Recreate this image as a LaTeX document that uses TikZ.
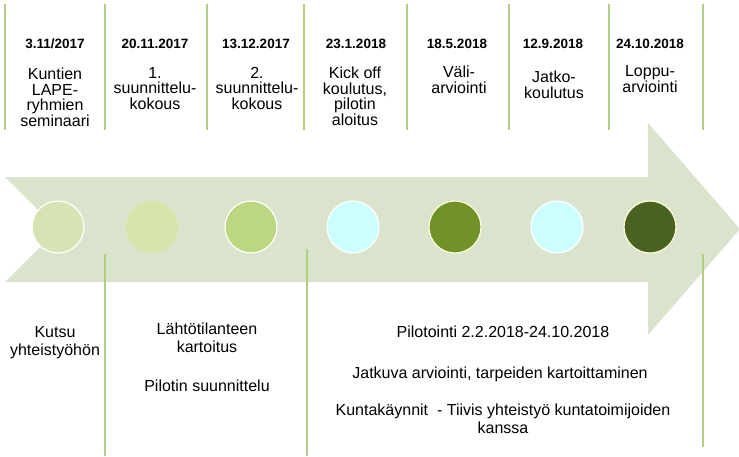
\documentclass[tikz,border=0pt]{standalone}
\usepackage{fontspec}
\setmainfont{Liberation Sans}
\definecolor{arrowgreen}{RGB}{218,228,204}
\definecolor{lineg}{RGB}{180,205,130}
\definecolor{dotA}{RGB}{214,228,180}
\definecolor{dotB}{RGB}{214,229,170}
\definecolor{dotC}{RGB}{188,215,128}
\definecolor{dotD}{RGB}{204,255,255}
\definecolor{dotE}{RGB}{112,146,40}
\definecolor{dotF}{RGB}{74,98,33}
\tikzset{dot/.style={circle,minimum size=52pt,inner sep=0pt,draw=white,line width=1.2pt},
  datetxt/.style={anchor=base,inner sep=0pt,font=\fontsize{13.5}{15}\selectfont\bfseries},
  toptxt/.style={anchor=base,inner sep=0pt,align=center,font=\fontsize{16}{15.5}\selectfont},
  bottxt/.style={anchor=base,inner sep=0pt,align=center,font=\fontsize{16}{18}\selectfont},
  sepline/.style={draw=lineg,line width=1.4pt}}
\begin{document}
\begin{tikzpicture}[x=1pt,y=-1pt]
      \useasboundingbox (0,0) rectangle (739,456);
      \fill[arrowgreen] (5,177) -- (648,177) -- (648,123) -- (740,229) -- (648,335)
        -- (648,282) -- (5,282) -- (58,229.5) -- cycle;

      \draw[sepline] (5,4) -- (5,130);
      \draw[sepline] (105,4) -- (105,130);
      \draw[sepline] (207,4) -- (207,130);
      \draw[sepline] (304,4) -- (304,130);
      \draw[sepline] (407,4) -- (407,130);
      \draw[sepline] (509,4) -- (509,130);
      \draw[sepline] (609,4) -- (609,130);
      \draw[sepline] (703,4) -- (703,130);
      \draw[sepline] (105,254) -- (105,456);
      \draw[sepline] (307,249) -- (307,456);
      \draw[sepline] (703,254) -- (703,447);

      \node[dot,fill=dotA] (c1) at (58,227) {};
      \node[dot,fill=dotB,draw=none] (c2) at (152,227) {};
      \node[dot,fill=dotC] (c3) at (251,227) {};
      \node[dot,fill=dotD] (c4) at (353,227) {};
      \node[dot,fill=dotE,draw=white!85!yellow] (c5) at (455,227) {};
      \node[dot,fill=dotD] (c6) at (557,227) {};
      \node[dot,fill=dotF,draw=white!85!yellow] (c7) at (650,227) {};

      \node[datetxt] (d1) at (55,48.5) {3.11/2017};
      \node[datetxt] (d2) at (155,48.5) {20.11.2017};
      \node[datetxt] (d3) at (256,48.5) {13.12.2017};
      \node[datetxt] (d4) at (356,48.5) {23.1.2018};
      \node[datetxt] (d5) at (457,48.5) {18.5.2018};
      \node[datetxt] (d6) at (553,48.5) {12.9.2018};
      \node[datetxt] (d7) at (650,48.5) {24.10.2018};

      % multi-line nodes: base is the last line
      \node[toptxt] (t1) at (55,126) {Kuntien\\LAPE-\\ryhmien\\seminaari};
      \node[toptxt] (t2) at (155,109) {1.\\suunnittelu-\\kokous};
      \node[toptxt] (t3) at (257,109) {2.\\suunnittelu-\\kokous};
      \node[toptxt] (t4) at (355,125) {Kick off\\koulutus,\\pilotin\\aloitus};
      \node[toptxt] (t5) at (459,93) {Väli-\\arviointi};
      \node[toptxt] (t6) at (554,98) {Jatko-\\koulutus};
      \node[toptxt] (t7) at (650,92) {Loppu-\\arviointi};

      \node[bottxt] (b1) at (55,355) {Kutsu\\yhteistyöhön};
      \node[bottxt] (b2) at (207,352) {Lähtötilanteen\\kartoitus};
      \node[bottxt] (b3) at (207,391) {Pilotin suunnittelu};
      \node[bottxt] (b4) at (503,337) {Pilotointi 2.2.2018-24.10.2018};
      \node[bottxt] (b5) at (500,378) {Jatkuva arviointi, tarpeiden kartoittaminen};
      \node[bottxt] (b6) at (503,433) {Kuntakäynnit~ - Tiivis yhteistyö kuntatoimijoiden\\kanssa};
    \end{tikzpicture}
\end{document}
